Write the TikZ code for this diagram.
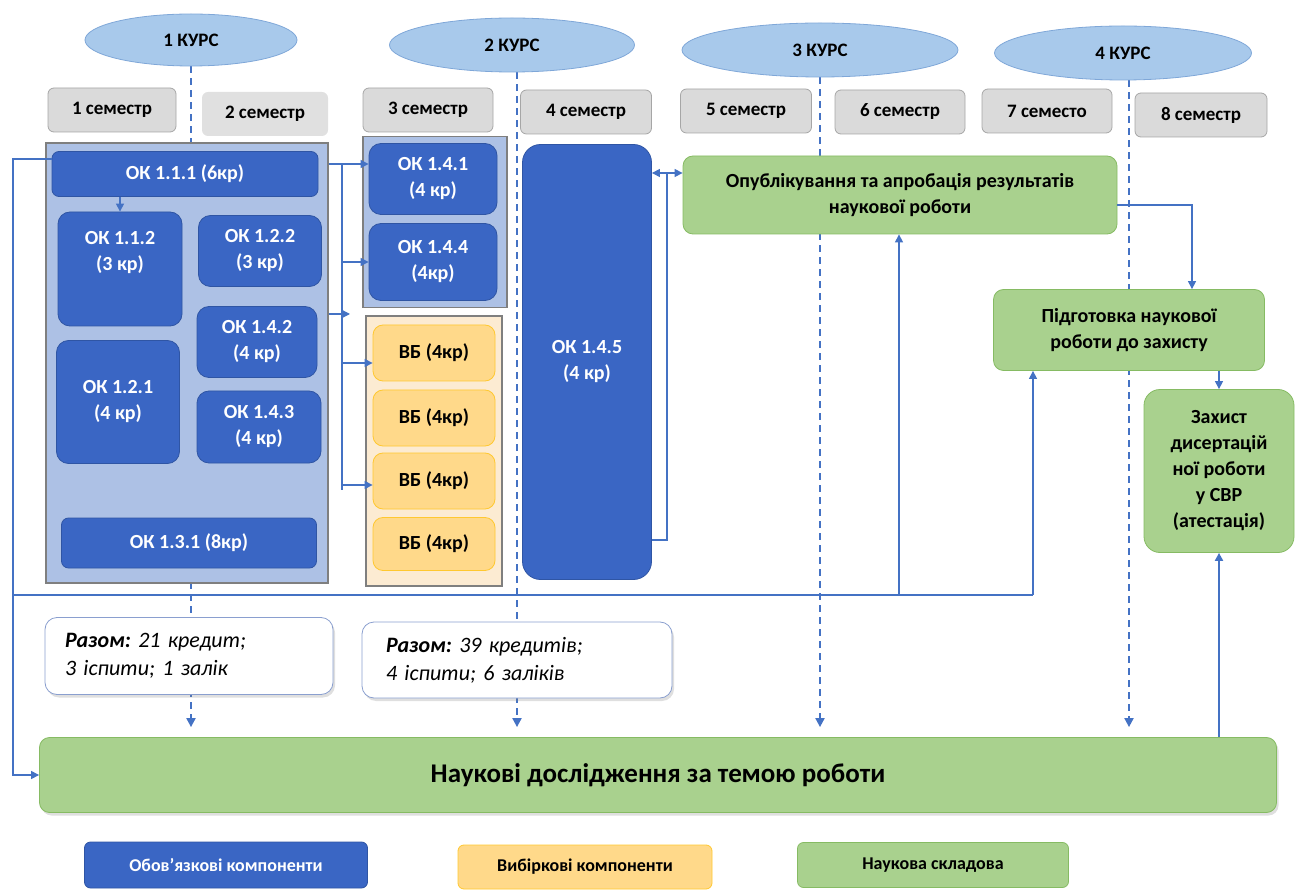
\documentclass[tikz,border=0pt]{standalone}
\usepackage{fontspec}
\setmainfont{Carlito}
\usetikzlibrary{positioning,arrows.meta,shapes.geometric,backgrounds,shadows}
\definecolor{plBlue}{HTML}{3A66C4}
\definecolor{plBlueD}{HTML}{2F55A4}
\definecolor{plBlueL}{HTML}{ADC1E5}
\definecolor{plSky}{HTML}{A8C9EB}
\definecolor{plSkyD}{HTML}{7FA7D8}
\definecolor{plGray}{HTML}{A6A6A6}
\definecolor{plGrayL}{HTML}{DADADA}
\definecolor{plFrame}{HTML}{7F7F7F}
\definecolor{plGreen}{HTML}{86BB63}
\definecolor{plGreenL}{HTML}{A9D18E}
\definecolor{plAmber}{HTML}{FFC830}
\definecolor{plAmberL}{HTML}{FFD98A}
\definecolor{plPeach}{HTML}{FCEBD2}
\definecolor{plSum}{HTML}{8A9FCF}
\definecolor{plLine}{HTML}{4472C4}
\tikzset{
  pl-box/.style={
    draw=plFrame, line width=0.8pt, rounded corners=6pt,
    font=\bfseries\fontsize{20}{26}\selectfont, align=center,
    inner sep=3pt
  },
  pl-year/.style={ellipse, draw=plSkyD, fill=plSky, line width=0.8pt,
    font=\bfseries\fontsize{19}{23}\selectfont},
  pl-sem/.style={pl-box, draw=plGray, fill=plGrayL, minimum height=44pt,
    font=\bfseries\fontsize{19}{23}\selectfont},
  pl-grp/.style={draw=plFrame, line width=1.2pt, fill=plBlueL},
  pl-ok/.style={pl-box, draw=plBlueD, fill=plBlue, text=white,
    rounded corners=12pt},
  pl-vb/.style={pl-box, draw=plAmber, fill=plAmberL, rounded corners=10pt,
    minimum width=122pt, minimum height=56pt},
  pl-sci/.style={pl-box, draw=plGreen, fill=plGreenL, rounded corners=10pt},
  pl-sum/.style={pl-box, draw=plSum, fill=white, rounded corners=12pt,
    font=\itshape\fontsize{22}{28}\selectfont, align=left,
    drop shadow={shadow xshift=2pt, shadow yshift=-3pt, opacity=0.25}},
  pl-key/.style={rounded corners=6pt, font=\bfseries\fontsize{18}{22}\selectfont},
  pl-line/.style={line width=1.2pt, draw=plLine},
  pl-flow/.style={pl-line, -{Triangle[length=8pt,width=8pt]}},
  pl-year-line/.style={draw=plLine, line width=2pt, dash pattern=on 7pt off 5pt,
    -{Triangle[length=9pt,width=9pt]}, shorten >=10pt}
}
\begin{document}
\frenchspacing
\begin{tikzpicture}[x=1pt, y=-1pt]
\useasboundingbox (0,0) rectangle (1304,890);

\node[pl-year, minimum width=212pt, minimum height=52pt] (k1) at (191,40) {1 КУРС};
\node[pl-year, minimum width=245pt, minimum height=54pt] (k2) at (512,45) {2 КУРС};
\node[pl-year, minimum width=276pt, minimum height=54pt] (k3) at (820,50) {3 КУРС};
\node[pl-year, minimum width=257pt, minimum height=54pt] (k4) at (1123,53) {4 КУРС};

\node[pl-sem, minimum width=128pt] (s1) at (112,110) {1 семестр};
\node[pl-sem, minimum width=126pt, draw=none, fill=plGrayL!85] (s2) at (265,114) {2 семестр};
\node[pl-sem, minimum width=130pt] (s3) at (428,110) {3 семестр};
\node[pl-sem, minimum width=131pt] (s4) at (586,112) {4 семестр};
\node[pl-sem, minimum width=131pt] (s5) at (746,111) {5 семестр};
\node[pl-sem, minimum width=130pt] (s6) at (900,112) {6 семестр};
\node[pl-sem, minimum width=130pt] (s7) at (1047,111) {7 семесто};
\node[pl-sem, minimum width=132pt] (s8) at (1201,115) {8 семестр};

\node[pl-grp, minimum width=282pt, minimum height=440pt] (g1) at (187,363) {};
\node[pl-ok, minimum width=266pt, minimum height=45pt, rounded corners=7pt] (ok111) at (185,174) {ОК 1.1.1 (6кр)};
\node[pl-ok, minimum width=124pt, minimum height=114pt] (ok112) at (120,269) {ОК 1.1.2\\(3 кр)\\[10pt]};
\node[pl-ok, minimum width=123pt, minimum height=71pt] (ok122) at (260,251) {ОК 1.2.2\\(3 кр)};
\node[pl-ok, minimum width=120pt, minimum height=71pt] (ok142) at (257,342) {ОК 1.4.2\\(4 кр)};
\node[pl-ok, minimum width=123pt, minimum height=123pt] (ok121) at (118,402) {ОК 1.2.1\\(4 кр)};
\node[pl-ok, minimum width=124pt, minimum height=72pt] (ok143) at (259,427) {ОК 1.4.3\\(4 кр)};
\node[pl-ok, minimum width=255pt, minimum height=50pt, rounded corners=7pt] (ok131) at (189,543) {ОК 1.3.1 (8кр)};

\node[pl-grp, minimum width=144pt, minimum height=171pt] (g2) at (435,222) {};
\node[pl-ok, minimum width=128pt, minimum height=71pt] (ok141) at (433,179) {ОК 1.4.1\\(4 кр)};
\node[pl-ok, minimum width=128pt, minimum height=77pt] (ok144) at (433,262) {ОК 1.4.4\\(4кр)};

\node[pl-grp, fill=plPeach, minimum width=136pt, minimum height=270pt] (g3) at (434,451) {};
\node[pl-vb] (vb1) at (434,353) {ВБ (4кр)};
\node[pl-vb] (vb2) at (434,418) {ВБ (4кр)};
\node[pl-vb] (vb3) at (434,481) {ВБ (4кр)};
\node[pl-vb, minimum height=53pt] (vb4) at (434,544) {ВБ (4кр)};

\node[pl-ok, minimum width=129pt, minimum height=435pt, rounded corners=18pt] (ok145) at (587,362) {ОК 1.4.5\\(4 кр)};

\node[pl-sci, minimum width=434pt, minimum height=78pt] (publ) at (900,195)
  {Опублікування та апробація  результатів\\наукової роботи};
\node[pl-sci, minimum width=271pt, minimum height=81pt] (prep) at (1129,330)
  {Підготовка наукової\\роботи  до захисту};
\node[pl-sci, minimum width=150pt, minimum height=163pt, rounded corners=16pt] (def) at (1219,471)
  {Захист\\дисертацій\\ної роботи\\у СВР\\(атестація)};

\node[pl-sum, minimum width=288pt, minimum height=77pt, text width=248pt, inner xsep=20pt] (sum1) at (189,656)
  {\textbf{Разом:} 21 кредит;\\3 іспити; 1 залік};
\node[pl-sum, minimum width=310pt, minimum height=76pt, text width=262pt, inner xsep=24pt] (sum2) at (517,660)
  {\textbf{Разом:} 39 кредитів;\\4 іспити; 6 заліків};

\node[pl-sci, minimum width=1237pt, minimum height=75pt, font=\bfseries\fontsize{27}{32}\selectfont,
  drop shadow={shadow xshift=2pt, shadow yshift=-3pt, opacity=0.25}] (bar) at (658,775)
  {Наукові дослідження за темою роботи};

\node[pl-ok, pl-key, minimum width=283pt, minimum height=46pt] (lg1) at (226,865) {Обов’язкові компоненти};
\node[pl-vb, pl-key, minimum width=254pt, minimum height=44pt] (lg2) at (585,867) {Вибіркові компоненти};
\node[pl-sci, pl-key, minimum width=271pt, minimum height=45pt] (lg3) at (933,865) {Наукова складова};

\begin{scope}[on background layer]
\draw[pl-year-line] (k1.south) -- (k1.south |- bar.north);
\draw[pl-year-line] ([xshift=5pt]k2.south) -- ([xshift=5pt]k2.south |- bar.north);
\draw[pl-year-line] (k3.south) -- (k3.south |- bar.north);
\draw[pl-year-line] ([xshift=6pt]k4.south) -- ([xshift=6pt]k4.south |- bar.north);
\end{scope}

\coordinate (lt) at (13,159);
\coordinate (lb) at (13,595);
\coordinate (rt) at (342,164);
\coordinate (rb) at (342,490);
\coordinate (st) at (350,314);
\coordinate (a3) at (342,363);
\coordinate (a4) at (342,485);
\coordinate (bt) at (667,173);
\coordinate (bb) at (667,540);
\coordinate (pr) at (1192,205);
\coordinate (up1) at (899,595);
\coordinate (up2) at (1033,595);

\draw[pl-flow] (lt -| ok111.west) -- (lt) |- (bar.west);
\draw[pl-line] (lb) -- (up2);
\draw[pl-flow] (up2) -- (up2 |- prep.south);
\draw[pl-flow] (up1) -- (up1 |- publ.south);
\draw[pl-flow] (ok112.north |- ok111.south) -- (ok112.north);

\draw[pl-line] (rt) -- (rb);
\draw[pl-flow] (rt -| g1.east) -- (rt -| ok141.west);
\draw[pl-flow] (rt |- ok144.west) -- (ok144.west);
\draw[pl-flow] (st -| g1.east) -- (st);
\draw[pl-flow] (a3) -- (a3 -| vb1.west);
\draw[pl-flow] (a4) -- (a4 -| vb3.west);

\draw[pl-line] (bb -| ok145.east) -- (bb) -- (bt);
\draw[pl-flow] (bt) -- (bt -| publ.west);
\draw[pl-flow] (bt) -- (bt -| ok145.east);

\draw[pl-flow] (pr -| publ.east) -- (pr) -- (pr |- prep.north);
\draw[pl-flow] (def.north |- prep.south) -- (def.north);
\draw[pl-flow, line width=2pt] (def.south |- bar.north) -- (def.south);
\end{tikzpicture}
\end{document}
